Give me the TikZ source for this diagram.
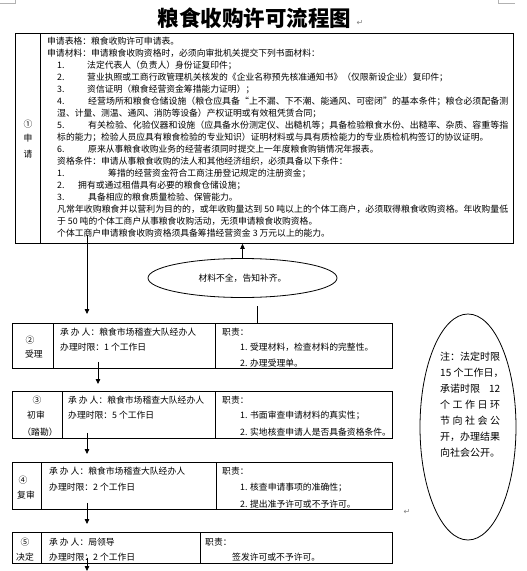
\documentclass[tikz,border=0pt]{standalone}
\usepackage{fontspec}
\usepackage{graphicx}
\setmainfont{Noto Sans CJK SC}
\newfontfamily\dejavu{DejaVu Sans}
\usetikzlibrary{arrows.meta,calc,shapes.geometric}
\newcommand\jline[2]{\resizebox{#1}{\height}{#2}}
\begin{document}
\begin{tikzpicture}[x=1pt,y=-1pt,
  box/.style={draw=black,line width=0.8pt,anchor=north west,inner sep=0pt},
  divline/.style={draw=black,line width=0.8pt},
  txt/.style={anchor=west,inner sep=0pt,font=\fontsize{8.8}{10}\selectfont},
  ctxt/.style={inner sep=0pt,font=\fontsize{8.8}{10}\selectfont},
  ntxt/.style={anchor=west,inner sep=0pt,font=\fontsize{10}{12}\selectfont},
  arr/.style={line width=0.8pt,-{Triangle[length=5pt,width=4.5pt]}},
  pmarkst/.style={inner sep=0pt,text=gray,font=\dejavu\fontsize{8}{9}\selectfont},
  cornerst/.style={draw=gray!60,line width=0.6pt}
]
\useasboundingbox (0,0) rectangle (527,571);

% corner marks
\draw[cornerst] (0,3) -- (15,3) -- (15,0);
\draw[cornerst] (498,0) -- (498,3) -- (515,3);

% title
\node[inner sep=0pt,font=\bfseries\fontsize{21.5}{24}\selectfont] (title) at (254.5,18) {粮食收购许可流程图};
\node[pmarkst] (rt1) at (360,23) {↵};

% ---------- box 1 ----------
\node[box,minimum width=498pt,minimum height=210pt] (b1) at (15,33) {};
\draw[divline] (40,33) -- (40,243);
\node[ctxt] (b1a) at (28,124) {①};
\node[ctxt] (b1b) at (28,138) {申};
\node[ctxt] (b1c) at (28,154) {请};

\node[txt] (l1) at (47,41) {申请表格：粮食收购许可申请表。};
\node[txt] (l2) at (47,53) {申请材料：申请粮食收购资格时，必须向审批机关提交下列书面材料：};
\node[txt] (n3) at (57,65) {1.};
\node[txt] (l3) at (87,65) {法定代表人（负责人）身份证复印件；};
\node[txt] (n4) at (57,77) {2.};
\node[txt] (l4) at (87,77) {营业执照或工商行政管理机关核发的《企业名称预先核准通知书》（仅限新设企业）复印件；};
\node[txt] (n5) at (57,89) {3.};
\node[txt] (l5) at (87,89) {资信证明（粮食经营资金筹措能力证明）；};
\node[txt] (n6) at (57,101) {4.};
\node[txt] (l6) at (88,101) {\jline{420pt}{经营场所和粮食仓储设施（粮仓应具备“上不漏、下不潮、能通风、可密闭”的基本条件；粮仓必须配备测}};
\node[txt] (l7) at (57,113) {湿、计量、测温、通风、消防等设备）产权证明或有效租凭赁合同；};
\node[txt] (n8) at (57,125) {5.};
\node[txt] (l8) at (88,125) {\jline{420pt}{有关检验、化验仪器和设施（应具备水份测定仪、出糙机等；具备检验粮食水份、出糙率、杂质、容重等指}};
\node[txt] (l9) at (57,137) {标的能力；检验人员应具有粮食检验的专业知识）证明材料或与具有质检能力的专业质检机构签订的协议证明。};
\node[txt] (n10) at (57,149) {6.};
\node[txt] (l10) at (88,149) {原来从事粮食收购业务的经营者须同时提交上一年度粮食购销情况年报表。};
\node[txt] (l11) at (57,161) {资格条件：申请从事粮食收购的法人和其他经济组织，必须具备以下条件：};
\node[txt] (n12) at (57,173) {1.};
\node[txt] (l12) at (108,173) {筹措的经营资金符合工商注册登记规定的注册资金；};
\node[txt] (n13) at (57,185) {2.};
\node[txt] (l13) at (78,185) {拥有或通过租借具有必要的粮食仓储设施；};
\node[txt] (n14) at (57,197) {3.};
\node[txt] (l14) at (88,197) {具备相应的粮食质量检验、保管能力。};
\node[txt] (l15) at (57,209) {\jline{451pt}{凡常年收购粮食并以营利为目的的，或年收购量达到 50 吨以上的个体工商户，必须取得粮食收购资格。年收购量低}};
\node[txt] (l16) at (57,221) {于 50 吨的个体工商户从事粮食收购活动，无须申请粮食收购资格。};
\node[txt] (l17) at (57,233) {个体工商户申请粮食收购资格须具备筹措经营资金 3 万元以上的能力。};

% ellipse: incomplete materials
\node[draw,ellipse,line width=0.8pt,minimum width=189pt,minimum height=39pt,inner sep=0pt,
      font=\fontsize{8.8}{10}\selectfont] (e1) at (242.5,278) {材料不全，告知补齐。};

% ---------- box 2 ----------
\node[box,minimum width=380pt,minimum height=45pt] (b2) at (12,323) {};
\draw[divline] (53,323) -- (53,368);
\draw[divline] (215,323) -- (215,368);
\node[ctxt] (b2a) at (30,340) {②};
\node[ctxt] (b2b) at (34,354) {受理};
\node[txt] (b2c) at (60,332) {承 办 人：粮食市场稽查大队经办人};
\node[txt] (b2d) at (60,347) {办理时限：1 个工作日};
\node[txt] (b2e) at (222,332) {职责：};
\node[txt] (b2f) at (240,347) {1. 受理材料，检查材料的完整性。};
\node[txt] (b2g) at (240,363) {2. 办理受理单。};

% ---------- box 3 ----------
\node[box,minimum width=380pt,minimum height=47pt] (b3) at (12,391) {};
\draw[divline] (62,391) -- (62,438);
\draw[divline] (215,391) -- (215,438);
\node[ctxt] (b3a) at (37,400) {③};
\node[ctxt] (b3b) at (36,415) {初审};
\node[ctxt] (b3c) at (40,432) {（踏勘）};
\node[txt] (b3d) at (68,400) {承 办 人：粮食市场稽查大队经办人};
\node[txt] (b3e) at (68,415) {办理时限：5 个工作日};
\node[txt] (b3f) at (222,400) {职责：};
\node[txt] (b3g) at (240,415) {1. 书面审查申请材料的真实性；};
\node[txt] (b3h) at (240,432) {2. 实地核查申请人是否具备资格条件。};

% ---------- box 4 ----------
\node[box,minimum width=380pt,minimum height=47pt] (b4) at (12,462) {};
\draw[divline] (41,462) -- (41,509);
\draw[divline] (216,462) -- (216,509);
\node[ctxt] (b4a) at (23,480) {④};
\node[ctxt] (b4b) at (26,495) {复审};
\node[txt] (b4c) at (49,471) {承 办 人：粮食市场稽查大队经办人};
\node[txt] (b4d) at (49,487) {办理时限：2 个工作日};
\node[txt] (b4e) at (222,471) {职责：};
\node[txt] (b4f) at (240,487) {1. 核查申请事项的准确性；};
\node[txt] (b4g) at (240,504) {2. 提出准予许可或不予许可。};
\node[pmarkst] (rt2) at (407,512) {↵};

% ---------- box 5 ----------
\node[box,minimum width=380pt,minimum height=31pt] (b5) at (12,532) {};
\draw[divline] (41,532) -- (41,563);
\draw[divline] (200,532) -- (200,563);
\node[ctxt] (b5a) at (25,542) {⑤};
\node[ctxt] (b5b) at (25,557) {决定};
\node[txt] (b5c) at (49,542) {承 办 人：局领导};
\node[txt] (b5d) at (49,557) {办理时限：2 个工作日};
\node[txt] (b5e) at (205,542) {职责：};
\node[txt] (b5f) at (232,557) {签发许可或不予许可。};

% ---------- note ellipse ----------
\node[draw,ellipse,line width=0.8pt,minimum width=96pt,minimum height=226pt,inner sep=0pt] (e2) at (468,427) {};
\node[ntxt] (t1) at (440,357) {\makebox[60pt][s]{注：法定时限}};
\node[ntxt] (t2) at (440,373) {15 个工作日，};
\node[ntxt] (t3) at (440,389) {\makebox[60pt][s]{承诺时限\hfill 12}};
\node[ntxt] (t4) at (440,405) {\makebox[60pt][s]{个\hfill 工\hfill 作\hfill 日\hfill 环}};
\node[ntxt] (t5) at (440,421) {\makebox[60pt][s]{节\hfill 向\hfill 社\hfill 会\hfill 公}};
\node[ntxt] (t6) at (440,437) {开，办理结果};
\node[ntxt] (t7) at (440,453) {向社会公开。};

% ---------- connectors ----------
\coordinate (x87) at (87,0);
\coordinate (x98) at (98,0);
\coordinate (x257) at (257,0);
\coordinate (a1) at (87,314);
\coordinate (a2) at (98,384);
\coordinate (a3) at (87,454);
\coordinate (a4) at (87,524);
\coordinate (a5) at (87,571);
\coordinate (c1) at (257,306);

\draw[arr] ($(b1.south -| x87)+(0,-9)$) -- (a1);
\draw[arr] (e1.north) -- (b1.south -| e1.north);
\draw[line width=0.8pt] (b2.north -| x257) -- (c1);
\draw[arr] ($(b2.south -| x98)+(0,-7)$) -- (a2);
\draw[arr] ($(b3.south -| x87)+(0,-6)$) -- (a3);
\draw[arr] ($(b4.south -| x87)+(0,-7)$) -- (a4);
\draw[arr] ($(b5.south -| x87)+(0,-6)$) -- (a5);
\end{tikzpicture}
\end{document}
